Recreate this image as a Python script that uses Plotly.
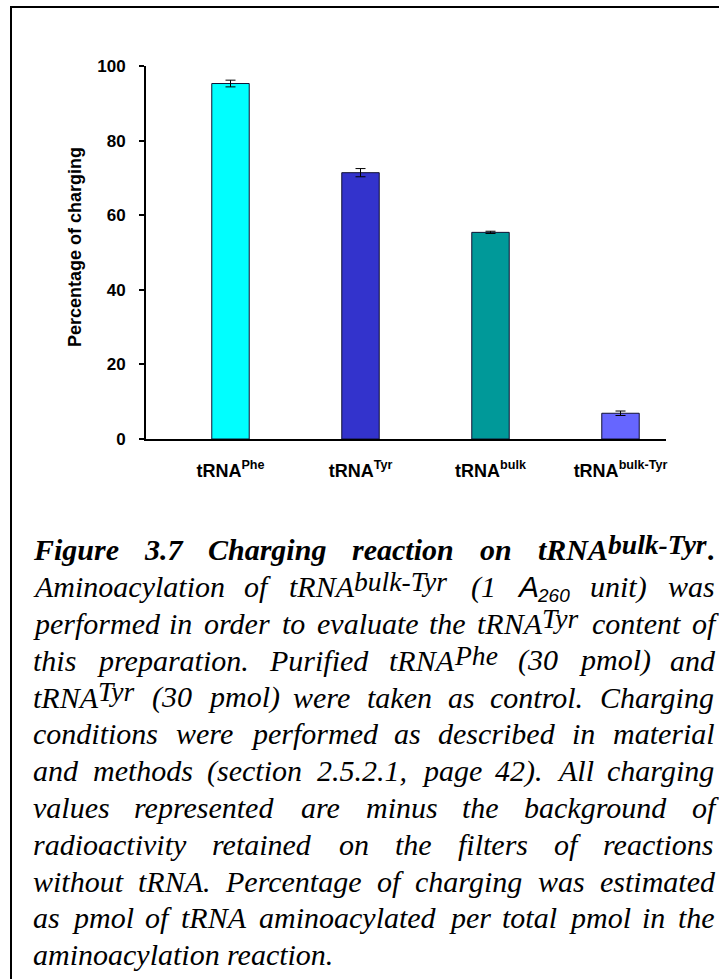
import re
import plotly.graph_objects as go

# ---------------- data ----------------
categories = ["tRNA<sup>Phe</sup>", "tRNA<sup>Tyr</sup>", "tRNA<sup>bulk</sup>", "tRNA<sup>bulk-Tyr</sup>"]
charging = [95.3, 71.4, 55.4, 6.9]
charging_err = [0.9, 1.1, 0.3, 0.6]
bar_colors = ["#00FFFF", "#3333CC", "#009999", "#6666FF"]
y_ticks = [0, 20, 40, 60, 80, 100]
y_title = "Percentage of charging"

# '*' = bold line, '@' = sans-serif word, ^{..} superscript, _{..} subscript
caption_lines = [
    "*Figure 3.7 Charging reaction on tRNA^{bulk-Tyr}.",
    "Aminoacylation of tRNA^{bulk-Tyr} (1 @A_{260} unit) was",
    "performed in order to evaluate the tRNA^{Tyr} content of",
    "this preparation. Purified tRNA^{Phe} (30 pmol) and",
    "tRNA^{Tyr} (30 pmol) were taken as control. Charging",
    "conditions were performed as described in material",
    "and methods (section 2.5.2.1, page 42). All charging",
    "values represented are minus the background of",
    "radioactivity retained on the filters of reactions",
    "without tRNA. Percentage of charging was estimated",
    "as pmol of tRNA aminoacylated per total pmol in the",
    "aminoacylation reaction.",
]

# ---------------- layout geometry (pixels) ----------------
W, H = 719, 979
PL, PR, PT, PB = 146, 666, 66, 439   # plot area


def px2x(px):
    return (px - PL) / (PR - PL)


def py2y(py):
    return (PB - py) / (PB - PT)


# ---------------- font metrics (per 1000 em) ----------------
def _mk(pairs):
    d = {}
    for chars, w in pairs:
        for c in chars:
            d[c] = w
    return d

TIMES_I = _mk([
    (" ", 250), ("().-:;", 333), (",.", 250), ("0123456789", 500),
    ("A", 611), ("B", 611), ("C", 667), ("D", 722), ("E", 611), ("F", 611), ("G", 722), ("H", 722),
    ("I", 333), ("J", 444), ("K", 667), ("L", 556), ("M", 833), ("N", 667), ("O", 722), ("P", 611),
    ("Q", 722), ("R", 611), ("S", 500), ("T", 556), ("U", 722), ("V", 611), ("W", 833), ("X", 611),
    ("Y", 556), ("Z", 556),
    ("a", 500), ("b", 500), ("c", 444), ("d", 500), ("e", 444), ("f", 278), ("g", 500), ("h", 500),
    ("i", 278), ("j", 278), ("k", 444), ("l", 278), ("m", 722), ("n", 500), ("o", 500), ("p", 500),
    ("q", 500), ("r", 389), ("s", 389), ("t", 278), ("u", 500), ("v", 444), ("w", 667), ("x", 444),
    ("y", 444), ("z", 389),
])
TIMES_BI = _mk([
    (" ", 250), ("()-:;", 333), (",.", 250), ("0123456789", 500),
    ("A", 667), ("B", 667), ("C", 667), ("D", 722), ("E", 667), ("F", 667), ("G", 722), ("H", 778),
    ("I", 389), ("J", 500), ("K", 667), ("L", 611), ("M", 889), ("N", 722), ("O", 722), ("P", 611),
    ("Q", 722), ("R", 667), ("S", 556), ("T", 611), ("U", 722), ("V", 667), ("W", 889), ("X", 667),
    ("Y", 611), ("Z", 611),
    ("a", 500), ("b", 500), ("c", 444), ("d", 500), ("e", 444), ("f", 333), ("g", 500), ("h", 556),
    ("i", 278), ("j", 278), ("k", 500), ("l", 278), ("m", 778), ("n", 556), ("o", 500), ("p", 500),
    ("q", 500), ("r", 389), ("s", 389), ("t", 278), ("u", 556), ("v", 444), ("w", 667), ("x", 500),
    ("y", 444), ("z", 389),
])
SANS_I = _mk([(" ", 278), ("0123456789", 556), ("A", 667)])

FS = 30            # caption font size
SUP_SCALE = 0.92
SUP_RAISE = 6
SUB_SIZE = 19
SUB_LOWER = 5
LEFT, RIGHT = 32, 714
BASE0, LEAD = 560, 36.8


def parse_word(word, bold):
    sans = word.startswith("@")
    if sans:
        word = word[1:]
    runs = []
    for sup, sub, plain in re.findall(r"\^\{([^}]*)\}|_\{([^}]*)\}|([^\^_{}]+)", word):
        if sup:
            runs.append((sup, "sup"))
        elif sub:
            runs.append((sub, "sub"))
        else:
            runs.append((plain, "base"))
    out = []
    for text, kind in runs:
        if sans:
            fam, table, k = "Liberation Sans", SANS_I, 0.3465
            w8 = "normal"
        else:
            fam, table, k = "Liberation Serif", (TIMES_BI if bold else TIMES_I), 0.3375
            w8 = "bold" if bold else "normal"
        size = FS
        shift = 0
        if kind == "sup":
            size = FS * SUP_SCALE
            shift = -SUP_RAISE
        elif kind == "sub":
            size = SUB_SIZE
            shift = SUB_LOWER
        width = sum(table.get(c, 500) for c in text) * size / 1000.0
        out.append(dict(text=text, fam=fam, size=size, shift=shift, k=k, weight=w8, width=width))
    return out


annotations = []
for li, line in enumerate(caption_lines):
    bold = line.startswith("*")
    if bold:
        line = line[1:]
    words = [parse_word(w, bold) for w in line.split(" ")]
    wsum = sum(r["width"] for wd in words for r in wd)
    last = li == len(caption_lines) - 1
    gap = FS * 0.25 if last else (RIGHT - LEFT - wsum) / (len(words) - 1)
    base = BASE0 + LEAD * li
    x = LEFT
    for wd in words:
        for r in wd:
            cy = base + r["shift"] - r["k"] * r["size"]
            annotations.append(dict(
                text=r["text"], x=px2x(x), y=py2y(cy), xref="paper", yref="paper",
                xanchor="left", yanchor="middle", showarrow=False, borderpad=0,
                font=dict(family=r["fam"], size=r["size"], color="black",
                          style="italic", weight=r["weight"]),
            ))
            x += r["width"]
        x += gap

# y-axis title
annotations.append(dict(
    text="<b>" + y_title + "</b>", x=px2x(75), y=py2y(247), xref="paper", yref="paper",
    xanchor="center", yanchor="middle", showarrow=False, textangle=-90,
    font=dict(family="Liberation Sans", size=18, color="black"),
))

fig = go.Figure()
fig.add_trace(go.Bar(
    x=categories, y=charging,
    width=0.288,
    marker=dict(color=bar_colors, line=dict(color="#111133", width=1)),
    error_y=dict(type="data", array=charging_err, visible=True,
                 color="black", thickness=1, width=5),
))

shapes = [
    dict(type="line", xref="paper", yref="paper",
         x0=px2x(11), x1=px2x(11), y0=py2y(7), y1=py2y(H + 5),
         line=dict(color="black", width=2)),
    dict(type="line", xref="paper", yref="paper",
         x0=px2x(10), x1=px2x(W + 5), y0=py2y(7), y1=py2y(7),
         line=dict(color="black", width=2)),
]

fig.update_layout(
    width=W, height=H,
    margin=dict(l=PL, r=W - PR, t=PT, b=H - PB, pad=0),
    paper_bgcolor="white", plot_bgcolor="white",
    showlegend=False,
    annotations=annotations,
    shapes=shapes,
    xaxis=dict(
        type="category", range=[-0.65, 3.35],
        showline=True, linecolor="black", linewidth=2,
        ticks="", showgrid=False, zeroline=False,
        tickfont=dict(family="Liberation Sans", size=18, color="black", weight="bold"),
        ticklabelstandoff=14,
    ),
    yaxis=dict(
        range=[0, 100], tickvals=y_ticks,
        showline=True, linecolor="black", linewidth=2,
        ticks="outside", ticklen=5, tickwidth=1.5, tickcolor="black",
        showgrid=False, zeroline=False,
        tickfont=dict(family="Liberation Sans", size=17, color="black", weight="bold"),
        ticklabelstandoff=10,
    ),
)

fig.write_html("out.html")
